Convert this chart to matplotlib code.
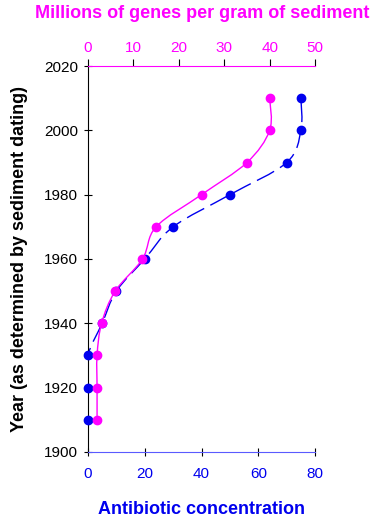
import numpy as np
import matplotlib
matplotlib.use("Agg")
import matplotlib.pyplot as plt
from matplotlib.path import Path
from matplotlib.patches import PathPatch

plt.rcParams['font.family'] = ['Liberation Sans', 'DejaVu Sans']

years = [1910, 1920, 1930, 1940, 1950, 1960, 1970, 1980, 1990, 2000, 2010]
antibiotic = [0, 0, 0, 5, 10, 20, 30, 50, 70, 75, 75]
genes = [2, 2, 2, 3, 6, 12, 15, 25, 35, 40, 40]

BLUE = '#0000ee'
AXBLUE = '#5a5aff'
MAG = '#ff00ff'


def smooth_path(ax, xs, ys):
    # Excel-style smoothed line: cubic Bezier through data points (display coords)
    pts = ax.transData.transform(np.column_stack([xs, ys]))
    verts = [pts[0]]
    codes = [Path.MOVETO]
    n = len(pts)
    t = 1.0 / 6.0
    for i in range(n - 1):
        p0 = pts[i - 1] if i > 0 else pts[i]
        p1 = pts[i]
        p2 = pts[i + 1]
        p3 = pts[i + 2] if i + 2 < n else pts[i + 1]
        c1 = p1 + (p2 - p0) * t
        c2 = p2 - (p3 - p1) * t
        verts += [c1, c2, p2]
        codes += [Path.CURVE4] * 3
    inv = ax.transData.inverted()
    verts = inv.transform(np.array(verts))
    return Path(verts, codes)


fig = plt.figure(figsize=(3.76, 5.2), dpi=100)
ax = fig.add_axes([0.234, 0.131, 0.604, 0.742])
ax.set_xlim(0, 80)
ax.set_ylim(1900, 2020)
ax2 = ax.twiny()
ax2.set_xlim(0, 50)
ax2.set_ylim(1900, 2020)

fig.canvas.draw()
p1 = smooth_path(ax, antibiotic, years)
ax.add_patch(PathPatch(p1, fill=False, edgecolor=BLUE, lw=1.0,
                       linestyle=(0, (14, 5)), zorder=2))
ax.plot(antibiotic, years, 'o', color=BLUE, ms=6, zorder=3, clip_on=False)

p2 = smooth_path(ax2, genes, years)
ax2.add_patch(PathPatch(p2, fill=False, edgecolor=MAG, lw=1.0, zorder=2))
ax2.plot(genes, years, 'o', color=MAG, ms=6, zorder=3, clip_on=False)

ax.set_xticks([0, 20, 40, 60, 80])
ax.set_yticks(range(1900, 2021, 20))
ax2.set_xticks(range(0, 51, 10))

for a in (ax, ax2):
    a.spines['right'].set_visible(False)
ax.spines['top'].set_visible(False)
ax.spines['bottom'].set_color(AXBLUE)
ax.spines['left'].set_color('black')
ax2.spines['bottom'].set_visible(False)
ax2.spines['left'].set_visible(False)
ax2.spines['top'].set_color(MAG)

ax.tick_params(axis='x', colors=BLUE, labelsize=11, direction='inout', length=6, pad=8)
ax.tick_params(axis='x', color='black')
ax.tick_params(axis='y', labelsize=11, direction='inout', length=6, pad=4)
ax2.tick_params(axis='x', colors=MAG, labelsize=11, direction='out', length=5, pad=3)
ax2.tick_params(axis='x', color='black')

ax.set_xlabel('Antibiotic concentration', color=BLUE, fontsize=13, fontweight='bold', labelpad=14)
ax.set_ylabel('Year (as determined by sediment dating)', color='black', fontsize=13,
              fontweight='bold', labelpad=12)
fig.text(0.537, 0.974, 'Millions of genes per gram of sediment', color=MAG, fontsize=13,
         fontweight='bold', ha='center', va='center')

fig.savefig('out.png', dpi=100)
